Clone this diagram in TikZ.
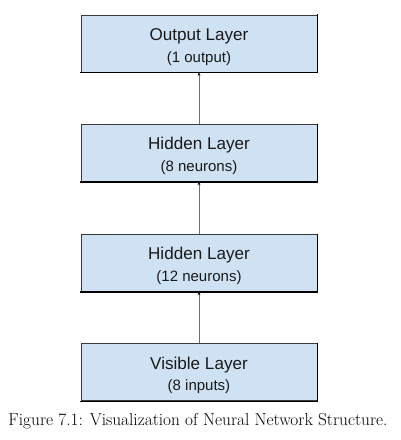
\documentclass[tikz,border=0pt]{standalone}
\usepackage{fontspec}
\setmainfont{Latin Modern Roman}
\newfontfamily\boxfont{Liberation Sans}
\usetikzlibrary{arrows.meta}
\definecolor{boxfill}{HTML}{CFE2F3}
\definecolor{boxline}{HTML}{3A3A3A}
\definecolor{arrowline}{HTML}{6E6E6E}
\definecolor{txt}{HTML}{1A1A1A}
\tikzset{
  layerbox/.style={draw=boxline, line width=0.8pt, fill=boxfill, minimum width=236pt, minimum height=57pt, inner sep=0pt},
  titletxt/.style={anchor=base, inner sep=0pt, text=txt, font=\boxfont\fontsize{17.1}{19}\selectfont},
  subtxt/.style={anchor=base, inner sep=0pt, text=txt, font=\boxfont\fontsize{15}{17}\selectfont},
  conn/.style={draw=arrowline, line width=0.6pt, -{Stealth[length=3.5pt,width=2.8pt,color=black]}},
  shadowedge/.style={draw=black, line width=1.2pt}
}
\begin{document}
\begin{tikzpicture}[x=1pt,y=-1pt]
\useasboundingbox (0,0) rectangle (401,440);
\foreach \nm/\cy in {out/43.5, hidA/152.8, hidB/262.8, vis/372}{
  \node[layerbox] (\nm) at (199,\cy) {};
  \draw[shadowedge] ([xshift=0.2pt,yshift=0.4pt]\nm.north east) -- ([xshift=0.2pt,yshift=-0.2pt]\nm.south east) -- ([xshift=-0.4pt,yshift=-0.2pt]\nm.south west);
}
\node[titletxt] (outT) at ([yshift=-26pt]out.north) {Output Layer};
\node[subtxt] (outS) at ([yshift=-47.5pt]out.north) {(1 output)};
\node[titletxt] (hidAT) at ([yshift=-26pt]hidA.north) {Hidden Layer};
\node[subtxt] (hidAS) at ([yshift=-47.5pt]hidA.north) {(8 neurons)};
\node[titletxt] (hidBT) at ([yshift=-26pt]hidB.north) {Hidden Layer};
\node[subtxt] (hidBS) at ([yshift=-47.5pt]hidB.north) {(12 neurons)};
\node[titletxt] (visT) at ([yshift=-26pt]vis.north) {Visible Layer};
\node[subtxt] (visS) at ([yshift=-47.5pt]vis.north) {(8 inputs)};
\draw[conn] (vis.north) -- (hidB.south);
\draw[conn] (hidB.north) -- (hidA.south);
\draw[conn] (hidA.north) -- (out.south);
\node[anchor=base, inner sep=0pt, font=\fontsize{17.3}{19}\selectfont] (cap) at (198,425) {Figure 7.1: Visualization of Neural Network Structure.};
\end{tikzpicture}
\end{document}
